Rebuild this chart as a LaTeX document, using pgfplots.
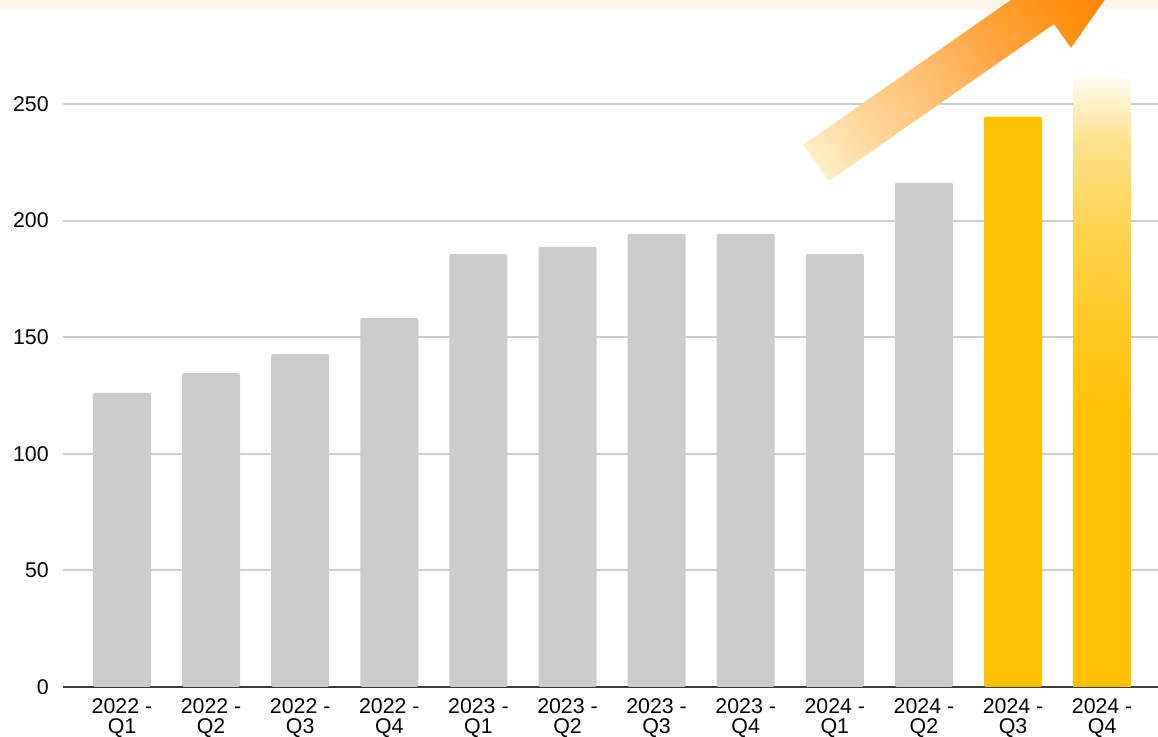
\documentclass[border=0pt]{standalone}
\usepackage{pgfplots}
\pgfplotsset{compat=1.18}
\usepackage{fontspec}
\setmainfont{Liberation Sans}
\definecolor{barGray}{HTML}{CCCCCC}
\definecolor{barGold}{HTML}{FFC000}
\definecolor{gridGray}{HTML}{CCCCCC}
\definecolor{axisDark}{HTML}{3A3A3A}
\definecolor{bandCream}{HTML}{FFF5EA}
\definecolor{arrowLight}{HTML}{FFF2CC}
\definecolor{arrowL2}{HTML}{FFD495}
\definecolor{arrowMid}{HTML}{FFBE70}
\definecolor{arrowM2}{HTML}{FFA23A}
\definecolor{arrowM3}{HTML}{FF9010}
\definecolor{arrowDark}{HTML}{FF7F00}
\definecolor{fadeA}{HTML}{FFD24A}
\definecolor{fadeB}{HTML}{FEE28E}
\definecolor{fadeTop}{HTML}{FFFBEC}
\pgfdeclareverticalshading{barfade}{100bp}{color(0bp)=(barGold); color(25bp)=(barGold); color(47bp)=(barGold); color(62bp)=(fadeA); color(70bp)=(fadeB); color(75bp)=(fadeTop); color(100bp)=(fadeTop)}
\pgfdeclareverticalshading{arrowfade}{100bp}{color(0bp)=(arrowLight); color(17bp)=(arrowLight); color(29.6bp)=(arrowL2); color(40.8bp)=(arrowMid); color(54bp)=(arrowM2); color(64.6bp)=(arrowM3); color(73bp)=(arrowDark); color(100bp)=(arrowDark)}
\begin{document}
\begin{tikzpicture}
\begin{axis}[
  scale only axis, width=821.25pt, height=515.25pt,
  at={(0,0)}, anchor=south west,
  xmin=-0.662, xmax=11.627, ymin=0, ymax=294.6,
  axis x line*=bottom, axis y line*=left,
  x axis line style={axisDark, line width=1.5pt},
  y axis line style={draw=none},
  ytick={0,50,...,250},
  xtick={0,...,11},
  xticklabels={{2022 -\\Q1},{2022 -\\Q2},{2022 -\\Q3},{2022 -\\Q4},{2023 -\\Q1},{2023 -\\Q2},{2023 -\\Q3},{2023 -\\Q4},{2024 -\\Q1},{2024 -\\Q2},{2024 -\\Q3},{2024 -\\Q4}},
  major tick length=0pt,
  ymajorgrids, grid style={gridGray, line width=1.5pt},
  tick label style={font=\fontsize{16}{15}\selectfont, text=black},
  yticklabel style={anchor=east, inner sep=0pt, xshift=-10.5pt},
  xticklabel style={anchor=north, inner sep=0pt, yshift=-8.8pt, align=center},
  /pgf/number format/assume math mode=true,
]
\addplot[ybar, bar width=0.651, bar shift=0pt, fill=barGray, draw=none, rounded corners=1.5pt]
  coordinates {(0,126.1) (1,134.6) (2,142.8) (3,158.2) (4,185.7) (5,188.7) (6,194.3) (7,194.3) (8,185.7) (9,216.3)};
\addplot[ybar, bar width=0.651, bar shift=0pt, fill=barGold, draw=none, rounded corners=1.5pt]
  coordinates {(10,244.6)};
\addplot[ybar, bar width=0.651, bar shift=0pt, draw=none, shade, shading=barfade]
  coordinates {(11,260.3)};
\end{axis}
\begin{scope}[x=0.75pt, y=-0.75pt, shift={(-47.25pt,515.25pt)}]
  \begin{scope}
  \clip (0,0) rectangle (1158,737);
  \fill[bandCream] (0,0) rectangle (1158,9.5);
  \shade[shading=arrowfade, shading angle=-55]
    (829,181) -- (1054,24) -- (1071,48) -- (1158,-76) -- (1011,-36) -- (1028,-12) -- (803,145) -- cycle;
  \end{scope}
  \pgfresetboundingbox
  \useasboundingbox (0,0) rectangle (1158,737);
\end{scope}
\end{tikzpicture}
\end{document}
